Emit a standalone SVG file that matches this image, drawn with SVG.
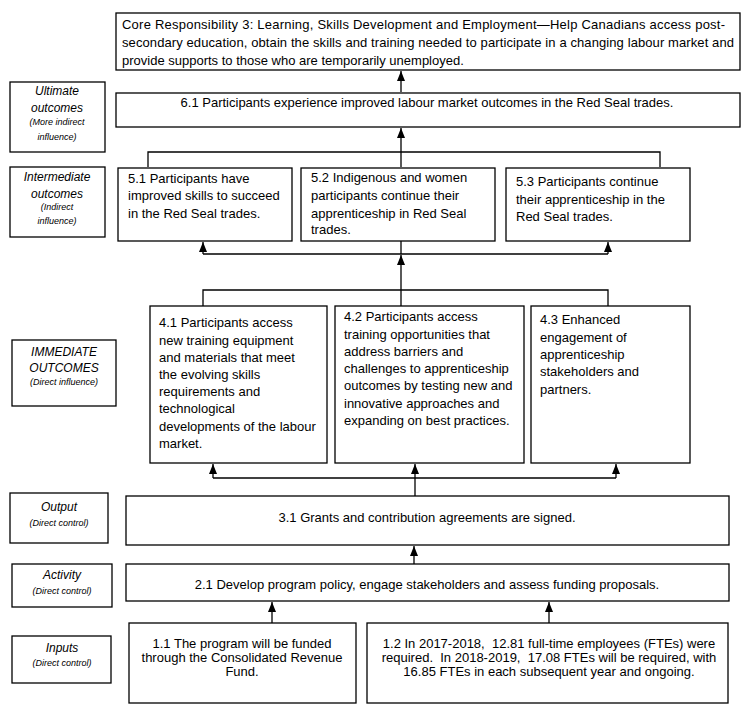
<svg xmlns="http://www.w3.org/2000/svg" width="742" height="713" viewBox="0 0 742 713">
<defs>
<marker id="ah" markerUnits="userSpaceOnUse" markerWidth="10" markerHeight="8" viewBox="0 0 10 8" refX="10" refY="4" orient="auto">
<path d="M0,0 L10,4 L0,8 Z" fill="#000"/>
</marker>
<style>
.box{fill:#fff;stroke:#000;stroke-width:1.3}
.t{font-family:"Liberation Sans",Arial,sans-serif;font-size:13px;fill:#000}
.c{text-anchor:middle}
.pre{white-space:pre}
.lb{font-family:"Liberation Sans",Arial,sans-serif;font-style:italic;font-size:12px;fill:#000;text-anchor:middle}
.ls{font-size:9px}
.ln{fill:none;stroke:#000;stroke-width:1.3}
</style>
</defs>
<rect width="742" height="713" fill="#fff"/>

<g id="connectors">
<line class="ln" x1="401" y1="92" x2="401" y2="71" marker-end="url(#ah)"/>
<polyline class="ln" points="148,167 148,152 660,152 660,167"/>
<line class="ln" x1="401" y1="167" x2="401" y2="128" marker-end="url(#ah)"/>
<line class="ln" x1="401" y1="241" x2="401" y2="254"/>
<line class="ln" x1="401" y1="290" x2="401" y2="255" marker-end="url(#ah)"/>
<line class="ln" x1="203" y1="254" x2="608" y2="254"/>
<line class="ln" x1="203" y1="254" x2="203" y2="242" marker-end="url(#ah)"/>
<line class="ln" x1="608" y1="254" x2="608" y2="242" marker-end="url(#ah)"/>
<polyline class="ln" points="203,306 203,290 608,290 608,306"/>
<line class="ln" x1="401" y1="290" x2="401" y2="306"/>
<line class="ln" x1="213" y1="478" x2="616" y2="478"/>
<line class="ln" x1="213" y1="478" x2="213" y2="464" marker-end="url(#ah)"/>
<line class="ln" x1="415" y1="478" x2="415" y2="464" marker-end="url(#ah)"/>
<line class="ln" x1="616" y1="478" x2="616" y2="464" marker-end="url(#ah)"/>
<line class="ln" x1="415" y1="496" x2="415" y2="478"/>
<line class="ln" x1="414" y1="564" x2="414" y2="546" marker-end="url(#ah)"/>
<line class="ln" x1="272" y1="623" x2="272" y2="602" marker-end="url(#ah)"/>
<line class="ln" x1="549" y1="623" x2="549" y2="602" marker-end="url(#ah)"/>
</g>

<g id="core">
<rect class="box" x="116" y="13" width="624" height="57"/>
<text class="t" x="122" y="29" textLength="603" lengthAdjust="spacing">Core Responsibility 3: Learning, Skills Development and Employment—Help Canadians access post-</text>
<text class="t" x="122" y="47" textLength="612" lengthAdjust="spacing">secondary education, obtain the skills and training needed to participate in a changing labour market and</text>
<text class="t" x="122" y="65">provide supports to those who are temporarily unemployed.</text>
</g>

<g id="label-ultimate">
<rect class="box" x="10" y="82" width="95" height="70"/>
<text class="lb" x="57" y="95">Ultimate</text>
<text class="lb" x="57" y="112">outcomes</text>
<text class="lb ls" x="57" y="125">(More indirect</text>
<text class="lb ls" x="57" y="140">influence)</text>
</g>

<g id="n61">
<rect class="box" x="116" y="93" width="624" height="34"/>
<text class="t c" x="427" y="107">6.1 Participants experience improved labour market outcomes in the Red Seal trades.</text>
</g>

<g id="label-intermediate">
<rect class="box" x="10" y="167" width="95" height="70"/>
<text class="lb" x="57" y="181">Intermediate</text>
<text class="lb" x="57" y="198">outcomes</text>
<text class="lb ls" x="57" y="210">(Indirect</text>
<text class="lb ls" x="57" y="224">influence)</text>
</g>

<g id="n51">
<rect class="box" x="118" y="168" width="174" height="73"/>
<text class="t" x="128" y="183">5.1 Participants have</text>
<text class="t" x="128" y="200">improved skills to succeed</text>
<text class="t" x="128" y="218">in the Red Seal trades.</text>
</g>
<g id="n52">
<rect class="box" x="301" y="168" width="194" height="73"/>
<text class="t" x="311" y="182">5.2 Indigenous and women</text>
<text class="t" x="311" y="200">participants continue their</text>
<text class="t" x="311" y="218">apprenticeship in Red Seal</text>
<text class="t" x="311" y="234">trades.</text>
</g>
<g id="n53">
<rect class="box" x="506" y="168" width="184" height="73"/>
<text class="t" x="516" y="186">5.3 Participants continue</text>
<text class="t" x="516" y="204">their apprenticeship in the</text>
<text class="t" x="516" y="221">Red Seal trades.</text>
</g>

<g id="label-immediate">
<rect class="box" x="12" y="340" width="104" height="66"/>
<text class="lb" x="64" y="356">IMMEDIATE</text>
<text class="lb" x="64" y="372">OUTCOMES</text>
<text class="lb ls" x="64" y="385">(Direct influence)</text>
</g>

<g id="n41">
<rect class="box" x="150" y="306" width="177" height="157"/>
<text class="t" x="159" y="327">4.1 Participants access</text>
<text class="t" x="159" y="345">new training equipment</text>
<text class="t" x="159" y="362">and materials that meet</text>
<text class="t" x="159" y="379">the evolving skills</text>
<text class="t" x="159" y="396">requirements and</text>
<text class="t" x="159" y="413">technological</text>
<text class="t" x="159" y="431">developments of the labour</text>
<text class="t" x="159" y="448">market.</text>
</g>
<g id="n42">
<rect class="box" x="335" y="306" width="189" height="157"/>
<text class="t" x="344" y="321">4.2 Participants access</text>
<text class="t" x="344" y="339">training opportunities that</text>
<text class="t" x="344" y="356">address barriers and</text>
<text class="t" x="344" y="373">challenges to apprenticeship</text>
<text class="t" x="344" y="390">outcomes by testing new and</text>
<text class="t" x="344" y="408">innovative approaches and</text>
<text class="t" x="344" y="425">expanding on best practices.</text>
</g>
<g id="n43">
<rect class="box" x="531" y="306" width="159" height="157"/>
<text class="t" x="540" y="324">4.3 Enhanced</text>
<text class="t" x="540" y="342">engagement of</text>
<text class="t" x="540" y="359">apprenticeship</text>
<text class="t" x="540" y="376">stakeholders and</text>
<text class="t" x="540" y="394">partners.</text>
</g>

<g id="label-output">
<rect class="box" x="10" y="493" width="98" height="50"/>
<text class="lb" x="59" y="511">Output</text>
<text class="lb ls" x="59" y="526">(Direct control)</text>
</g>
<g id="n31">
<rect class="box" x="126" y="496" width="603" height="49"/>
<text class="t c" x="427" y="522">3.1 Grants and contribution agreements are signed.</text>
</g>

<g id="label-activity">
<rect class="box" x="12" y="564" width="100" height="43"/>
<text class="lb" x="62" y="579">Activity</text>
<text class="lb ls" x="62" y="594">(Direct control)</text>
</g>
<g id="n21">
<rect class="box" x="126" y="564" width="603" height="37"/>
<text class="t c" x="427" y="589">2.1 Develop program policy, engage stakeholders and assess funding proposals.</text>
</g>

<g id="label-inputs">
<rect class="box" x="12" y="636" width="99" height="47"/>
<text class="lb" x="62" y="652">Inputs</text>
<text class="lb ls" x="62" y="666">(Direct control)</text>
</g>
<g id="n11">
<rect class="box" x="129" y="623" width="227" height="80"/>
<text class="t c" x="242" y="648">1.1 The program will be funded</text>
<text class="t c" x="242" y="662">through the Consolidated Revenue</text>
<text class="t c" x="242" y="676">Fund.</text>
</g>
<g id="n12">
<rect class="box" x="367" y="623" width="361" height="80"/>
<text class="t c pre" x="549" y="648">1.2 In 2017-2018,  12.81 full-time employees (FTEs) were</text>
<text class="t c pre" x="549" y="662">required.  In 2018-2019,  17.08 FTEs will be required, with</text>
<text class="t c" x="549" y="676">16.85 FTEs in each subsequent year and ongoing.</text>
</g>
</svg>
